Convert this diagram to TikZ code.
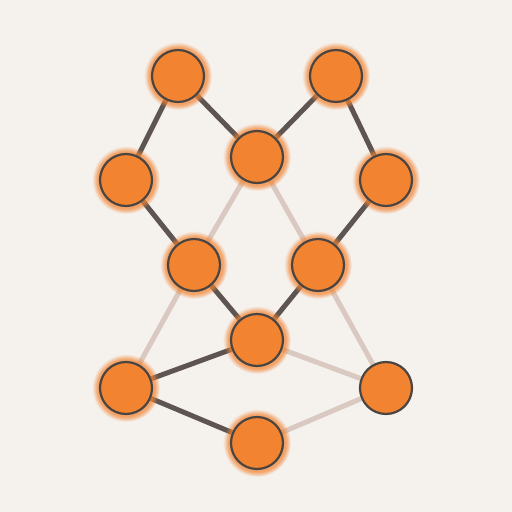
\documentclass[tikz,border=0pt]{standalone}
\usepackage{xcolor}
\usetikzlibrary{shadows,backgrounds}
\definecolor{paper}{HTML}{F5F1ED}
\definecolor{dot}{HTML}{F28331}
\definecolor{rim}{HTML}{4B4541}
\definecolor{strong}{HTML}{5E5552}
\definecolor{faint}{HTML}{D9C9C1}

\begin{document}
\begin{tikzpicture}[x=1pt,y=-1pt, line cap=round,
        every node/.append style={circle,inner sep=0pt,minimum size=52pt}]
      \tikzstyle{ball} = [fill=dot,draw=rim,line width=2.2pt,
        circular glow={fill=dot,opacity=0.7,shadow scale=1.3}]
      \tikzstyle{plain} = [fill=dot,draw=rim,line width=2.2pt]
      \tikzstyle{bond} = [draw=strong,line width=5pt]
      \tikzstyle{weak} = [draw=faint,line width=5pt]
      \useasboundingbox (0,0) rectangle (512,512);
      \node (topL) [ball] at (178,76) {};
      \node (topR) [ball] at (336,76) {};
      \node (mid) [ball] at (257,157) {};
      \node (sideL) [ball] at (126,180) {};
      \node (sideR) [ball] at (386,180) {};
      \node (innL) [ball] at (194,265) {};
      \node (innR) [ball] at (318,265) {};
      \node (hub) [ball] at (257,340) {};
      \node (lowL) [ball] at (126,388) {};
      \node (lowR) [plain] at (386,388) {};
      \node (foot) [ball] at (257,443) {};
      \begin{scope}[on background layer]
        \fill[paper] (0,0) rectangle (512,512);
        % faint links
        \draw[weak] (mid) -- (innL);
        \draw[weak] (mid) -- (innR);
        \draw[weak] (innL) -- (lowL);
        \draw[weak] (innR) -- (lowR);
        \draw[weak] (hub) -- (lowR);
        \draw[weak] (foot) -- (lowR);
        % strong links
        \draw[bond] (topL) -- (mid);
        \draw[bond] (topR) -- (mid);
        \draw[bond] (topL) -- (sideL);
        \draw[bond] (topR) -- (sideR);
        \draw[bond] (sideL) -- (innL);
        \draw[bond] (innL) -- (hub);
        \draw[bond] (hub) -- (innR);
        \draw[bond] (innR) -- (sideR);
        \draw[bond] (hub) -- (lowL);
        \draw[bond] (lowL) -- (foot);
      \end{scope}
    \end{tikzpicture}
\end{document}
